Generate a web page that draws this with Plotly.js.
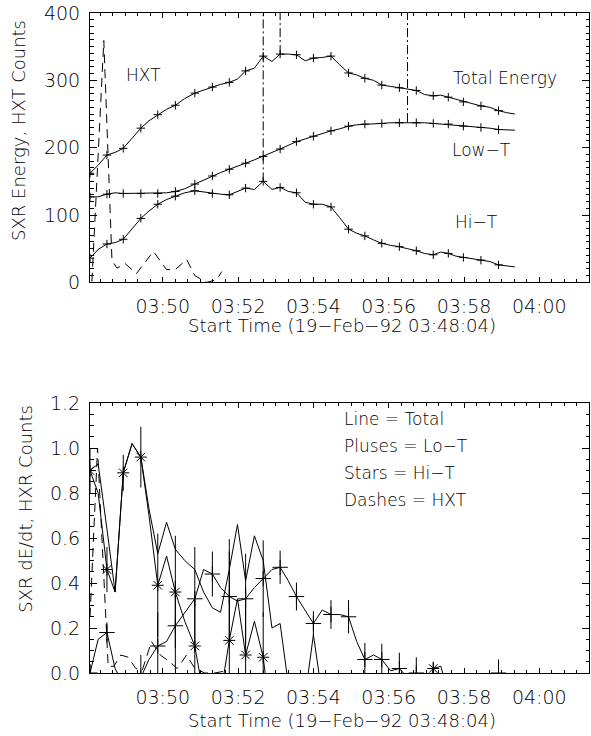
<!DOCTYPE html>
<html><head><meta charset="utf-8">
<script src="https://cdn.plot.ly/plotly-3.0.1.min.js"></script>
<style>html,body{margin:0;padding:0;background:#fff}#chart{width:591px;height:736px}</style>
</head><body><div id="chart"></div>
<script>
// ---- data (seconds after 19-Feb-92 03:48:04) ----
const tSec = [0,13,27,40,53,67,81,94,108,122,136,151,167,181,195,208,222,235,248,262,276,290,303,316,329,343,356,370,384,398,412,425,438,452,465,479,493,506,520,533,547,559,571,583,595,609,623,637,651,664,677];
const totalEnergy = [162,174,189,193,199,214,229,240,249,257,263,273,281,286,290,294,297,302,314,318,336,328,339,339,338,329,333,334,336,323,311,308,303,300,293,291,289,287,285,279,277,278,275,271,268,265,262,260,255,252,250];
const lowT = [127,127,131,133,132,132,132,132,132,133,135,139,146,152,158,163,168,172,177,182,187,193,198,204,209,213,217,221,225,228,232,234,235,236,236,237,237,238,237,237,236,235,235,233,232,231,230,229,227,226,226];
const hiT = [36,49,57,59,64,80,95,106,116,123,128,133,136,134,132,131,130,135,140,138,150,138,141,135,133,119,116,116,112,96,79,73,69,63,58,55,53,50,47,43,41,45,43,39,37,35,33,31,26,24,23];
const hxtSec = [3,22,35,43,56,74,101,122,136,154,167,186,202,210];
const hxtCounts = [1,359,33,21,28,13,46,19,19,34,10,0,4,16];

const dTotal = [0.90,0.93,0.64,0.36,0.89,1.02,0.96,0.73,0.53,0.67,0.55,0.50,0.46,0.36,0.29,0.27,0.46,0.66,0.41,0.61,0.50,0.20,0.22,-0.05,-0.20,-0.10,0.17,-0.10,-0.15,-0.30,-0.50,-0.40,-0.30,-0.25,-0.30,-0.20,-0.15,-0.10,-0.15,-0.20,-0.10,-0.10,-0.15,-0.15,-0.15,-0.15,-0.10,-0.20,-0.15,-0.15,-0.10];
const dLowT = [0.00,0.15,0.18,0.02,-0.05,-0.05,-0.02,0.06,0.12,0.14,0.21,0.27,0.33,0.46,0.44,0.38,0.34,0.32,0.33,0.38,0.42,0.46,0.47,0.41,0.34,0.28,0.22,0.28,0.26,0.26,0.25,0.14,0.06,0.08,0.06,0.01,0.02,-0.02,0.00,-0.10,-0.10,-0.10,-0.10,-0.10,-0.10,-0.10,-0.10,-0.10,0.00,-0.10,-0.10];
const dLowTErr = [0.04,0,0.045,0,0.05,0,0.10,0,0.15,0,0.20,0,0.23,0,0.10,0,0.20,0,0.20,0,0.17,0,0.074,0,0.062,0,0.055,0,0.064,0,0.074,0,0.074,0,0.07,0,0.07,0,0.07,0,0.05,0,0.05,0,0.05,0,0.05,0,0.06,0,0];
const dHiT = [0.90,0.80,0.46,0.36,0.89,1.02,0.96,0.70,0.39,0.52,0.36,0.23,0.12,-0.10,-0.15,-0.10,0.145,0.33,0.08,0.23,0.07,-0.25,-0.25,-0.40,-0.50,-0.40,-0.05,-0.35,-0.40,-0.50,-0.70,-0.50,-0.30,-0.30,-0.30,-0.20,-0.20,-0.20,-0.20,-0.15,0.02,0.03,-0.10,-0.20,-0.10,-0.15,-0.15,-0.20,-0.20,-0.15,-0.10];
const dHiTErr = [0.10,0,0.10,0,0.08,0,0.135,0,0.23,0,0.25,0,0.22,0,0.05,0,0.45,0,0.30,0,0.20,0,0.05,0,0.05,0,0.05,0,0.05,0,0.05,0,0.05,0,0.05,0,0.05,0,0.05,0,0.03,0,0.05,0,0.05,0,0.05,0,0.05,0,0];
const hxtNormSec = [0,12,29,38,49,61,73,83,98,112,127,139,154,167,183,199,217];
const hxtNorm = [0.25,1.00,0.03,0.03,0.08,0.07,0.02,0.01,0.14,0.08,0.05,0.02,0.08,0.02,0.00,0.00,0.01];

const xTitle = 'Start Time (19\u2212Feb\u221292 03:48:04)';
const topYTitle = 'SXR Energy, HXT Counts';
const botYTitle = 'SXR dE/dt, HXR Counts';
const topLabels = ['HXT','Total Energy','Low\u2212T','Hi\u2212T'];
const legendLines = ['Line = Total','Pluses = Lo\u2212T','Stars = Hi\u2212T','Dashes = HXT'];

// ---- helpers ----
const BASE = Date.UTC(1992,1,19,3,48,4);
const toX = s => BASE + s*1000;
const X = tSec.map(toX);
const even = (a) => a.filter((_,i)=> i%2===0 && i < a.length-1);
const FONT = 'DejaVu Sans';
const FW = 300;
const K = 'black';
const argmax = a => a.indexOf(Math.max(...a));

const traces = [];
const line = (x,y,xa,ya,dash) => ({x, y, xaxis:xa, yaxis:ya, mode:'lines', type:'scatter',
  line:{color:K, width:1, dash:dash||'solid'}, hoverinfo:'skip', showlegend:false});
const marks = (x,y,xa,ya,sym,size,err) => {
  const t = {x, y, xaxis:xa, yaxis:ya, mode:'markers', type:'scatter', showlegend:false, hoverinfo:'skip',
    marker:{symbol:sym, size:size, color:K, line:{color:K, width:1}}};
  if (err) t.error_y = {type:'data', array:err, visible:true, color:K, thickness:1, width:0};
  return t;
};

// top panel
[totalEnergy, lowT, hiT].forEach(s => {
  traces.push(line(X, s, 'x2', 'y2'));
  traces.push(marks(even(X), even(s), 'x2', 'y2', 'cross-thin-open', 6));
});
traces.push(line(hxtSec.map(toX), hxtCounts, 'x2', 'y2', '9px,6px'));
// dash-dot lines at peaks
[hiT, totalEnergy, lowT].forEach(s => {
  const k = argmax(s);
  traces.push(line([X[k], X[k]], [s[k], 400], 'x2', 'y2', '9px,3px,2px,3px'));
});

// bottom panel
traces.push(line(X, dTotal, 'x', 'y'));
traces.push(line(X, dLowT, 'x', 'y'));
traces.push(marks(even(X), even(dLowT), 'x', 'y', 'cross-thin-open', 11, even(dLowTErr)));
traces.push(line(X, dHiT, 'x', 'y'));
traces.push(marks(even(X), even(dHiT), 'x', 'y', 'asterisk-open', 10, even(dHiTErr)));
traces.push(line(hxtNormSec.map(toX), hxtNorm, 'x', 'y', '9px,6px'));

const RANGE = [BASE, BASE + 795200];
const tickfont = {family:FONT, size:19, color:K, weight:FW};
const xax = (anchor) => ({
  type:'date', range:RANGE, anchor, domain:[0,1], showgrid:false, zeroline:false,
  showline:true, linecolor:K, linewidth:1, mirror:'ticks', ticks:'inside', ticklen:5, tickwidth:1, tickcolor:K,
  tick0:'1992-02-19 03:50:00', dtick:120000, tickformat:'%H:%M', tickfont, ticklabelstandoff:7,
  minor:{ticks:'inside', ticklen:3, tickwidth:1, tickcolor:K, dtick:20000, tick0:'1992-02-19 03:50:00', showgrid:false}
});
const yax = (domain, range, dtick, mdtick, fmt, anchor) => ({
  domain, range, anchor, showgrid:false, zeroline:false, showline:true, linecolor:K, linewidth:1, mirror:'ticks',
  ticks:'inside', ticklen:7, tickwidth:1, tickcolor:K, dtick, tick0:0, tickformat:fmt, tickfont, ticklabelstandoff:5,
  minor:{ticks:'inside', ticklen:3.5, tickwidth:1, tickcolor:K, dtick:mdtick, tick0:0, showgrid:false}
});

const H = 660.3, W = 499, B = 673.3;
const px = x => (x-90)/W, py = y => (B-y)/H;
const ann = (text, x, y, opts) => Object.assign({text, x:px(x), y:py(y), xref:'paper', yref:'paper',
  showarrow:false, font:{family:FONT, size:17, color:K, weight:FW}, xanchor:'center', yanchor:'middle'}, opts||{});
const bigFont = {family:FONT, size:18, color:K, weight:FW};

const annotations = [
  ann(topLabels[0], 143, 75),
  ann(topLabels[1], 505, 78),
  ann(topLabels[2], 481, 150),
  ann(topLabels[3], 476, 222.5),
  ann(legendLines[0], 341.7, 419, {xanchor:'left'}),
  ann(legendLines[1], 341.7, 446, {xanchor:'left'}),
  ann(legendLines[2], 341.7, 473, {xanchor:'left'}),
  ann(legendLines[3], 341.7, 500, {xanchor:'left'}),
  ann(topYTitle, 19, 131, {textangle:-90, font:bigFont}),
  ann(botYTitle, 26, 509, {textangle:-90, font:bigFont}),
  ann(xTitle, 342, 326, {font:bigFont}),
  ann(xTitle, 342, 721, {font:bigFont})
];

const layout = {
  width:591, height:736, margin:{l:90, r:2, t:13, b:736-B}, paper_bgcolor:'#fff', plot_bgcolor:'#fff',
  showlegend:false, font:{family:FONT, color:K},
  xaxis: xax('y'), xaxis2: xax('y2'),
  yaxis: yax([0, (B-403.3)/H], [0,1.2], 0.2, 0.05, '.1f', 'x'),
  yaxis2: yax([(B-282.5)/H, 1], [0,400], 100, 10, 'd', 'x2'),
  annotations
};
Plotly.newPlot('chart', traces, layout, {staticPlot:true, displayModeBar:false});
</script></body></html>
